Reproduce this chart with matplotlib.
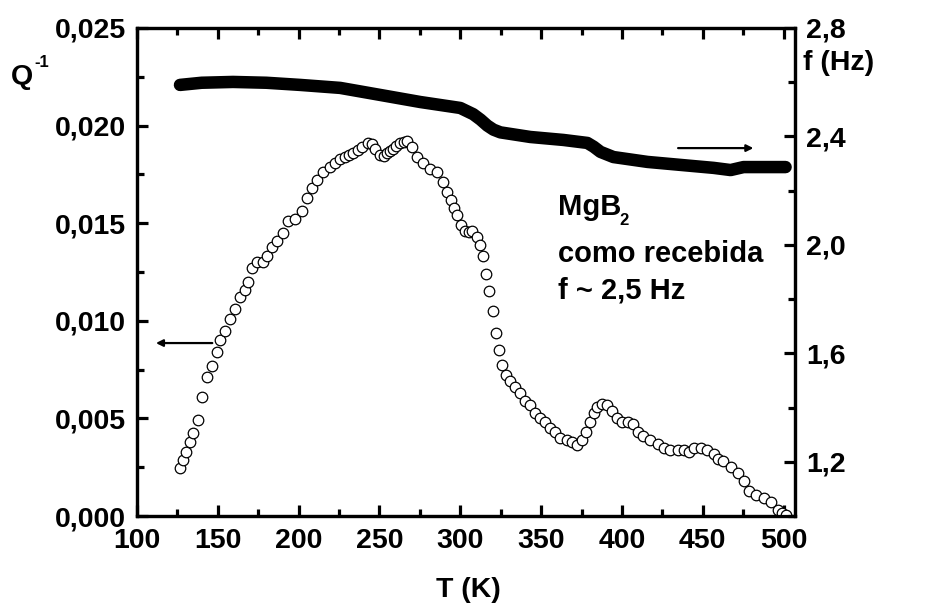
import matplotlib
matplotlib.use("Agg")
import matplotlib.pyplot as plt
from matplotlib.ticker import FixedLocator, MultipleLocator, FuncFormatter

plt.rcParams['font.family'] = ['Liberation Sans', 'DejaVu Sans']
plt.rcParams['font.weight'] = 'bold'

# Internal friction Q^-1 vs T
T_q = [126.6, 128.5, 130.5, 132.8, 134.7, 137.8, 140.2, 143.3, 146.4, 149.5, 151.4, 154.5,
       157.6, 160.7, 163.8, 166.9, 168.7, 171.2, 174.3, 178.0, 180.5, 183.6, 186.7, 190.4,
       193.5, 197.8, 202.2, 205.3, 208.4, 211.5, 215.2, 219.5, 222.6, 225.5, 228.8, 231.0,
       233.7, 236.5, 239.3, 243.0, 245.5, 247.4, 250.5, 252.5, 254.8, 256.5, 258.5, 260.5,
       262.8, 265.0, 267.2, 270.3, 273.4, 277.1, 281.4, 285.8, 289.5, 292.0, 294.4, 296.3,
       298.1, 300.6, 303.1, 305.5, 307.4, 310.5, 312.4, 314.2, 316.1, 318.0, 320.0, 322.3,
       324.1, 326.0, 328.5, 330.9, 334.0, 337.1, 340.2, 343.3, 346.4, 349.5, 352.6, 355.7,
       358.8, 361.9, 366.3, 369.3, 372.4, 375.5, 378.0, 380.5, 382.4, 384.8, 387.9, 391.0,
       394.1, 397.2, 400.3, 404.0, 407.1, 410.2, 413.3, 417.6, 422.0, 425.7, 430.0, 434.4,
       438.1, 441.2, 444.3, 448.6, 452.9, 456.7, 459.1, 462.8, 467.2, 471.5, 475.2, 478.3,
       482.7, 487.6, 492.0, 496.3, 499.0, 501.2]
Q_inv = [0.00246, 0.00287, 0.00330, 0.00380, 0.00425, 0.00490, 0.00610, 0.00710, 0.00770, 0.00840,
         0.00900, 0.00950, 0.01010, 0.01060, 0.01120, 0.01160, 0.01200, 0.01270, 0.01300, 0.01300,
         0.01330, 0.01380, 0.01410, 0.01450, 0.01510, 0.01520, 0.01560, 0.01630, 0.01680, 0.01720,
         0.01760, 0.01790, 0.01810, 0.01830, 0.01840, 0.01850, 0.01860, 0.01875, 0.01890, 0.01910,
         0.01905, 0.01880, 0.01850, 0.01845, 0.01860, 0.01870, 0.01880, 0.01895, 0.01910, 0.01915,
         0.01920, 0.01890, 0.01840, 0.01810, 0.01780, 0.01760, 0.01710, 0.01660, 0.01620, 0.01580,
         0.01540, 0.01490, 0.01460, 0.01455, 0.01460, 0.01430, 0.01390, 0.01330, 0.01240, 0.01155,
         0.01050, 0.00935, 0.00850, 0.00775, 0.00720, 0.00690, 0.00660, 0.00630, 0.00590, 0.00570,
         0.00530, 0.00500, 0.00480, 0.00450, 0.00430, 0.00400, 0.00390, 0.00380, 0.00365, 0.00390,
         0.00430, 0.00480, 0.00530, 0.00560, 0.00575, 0.00570, 0.00540, 0.00500, 0.00480, 0.00480,
         0.00470, 0.00430, 0.00410, 0.00390, 0.00370, 0.00350, 0.00340, 0.00340, 0.00340, 0.00330,
         0.00350, 0.00350, 0.00340, 0.00320, 0.00290, 0.00280, 0.00250, 0.00220, 0.00180, 0.00130,
         0.00110, 0.00090, 0.00070, 0.00030, 0.00015, 0.00005]

# Resonance frequency f vs T
T_f = [126.6, 140.0, 159.4, 180.0, 201.0, 225.7, 250.5, 275.2, 300.0, 308.0, 312.5, 316.7,
       320.5, 324.8, 343.3, 363.8, 378.6, 382.5, 386.7, 394.7, 415.8, 436.2, 456.7, 467.2,
       475.2, 487.6, 501.2]
f_hz = [2.590, 2.598, 2.601, 2.598, 2.590, 2.579, 2.553, 2.527, 2.505, 2.482, 2.462, 2.440,
        2.425, 2.415, 2.398, 2.387, 2.376, 2.362, 2.343, 2.324, 2.306, 2.295, 2.284, 2.276,
        2.287, 2.287, 2.287]

x_ticks = [100, 150, 200, 250, 300, 350, 400, 450, 500]
q_ticks = [0.000, 0.005, 0.010, 0.015, 0.020, 0.025]
f_ticks = [1.2, 1.6, 2.0, 2.4, 2.8]

FS = 20.5

fig = plt.figure(figsize=(9.37, 6.07), dpi=100)
ax = fig.add_axes([0.1462, 0.1499, 0.7022, 0.8040])
ax2 = ax.twinx()

ax.plot(T_q, Q_inv, linestyle='none', marker='o', markersize=7.6,
        markerfacecolor='white', markeredgecolor='black', markeredgewidth=0.9, zorder=3)
ax2.plot(T_f, f_hz, color='black', linewidth=9, solid_capstyle='round',
         solid_joinstyle='round', zorder=2)

ax.set_xlim(100, 507)
ax.set_ylim(0, 0.025)
ax2.set_ylim(1.0, 2.8)

comma = lambda fmt: FuncFormatter(lambda v, p: (fmt % v).replace('.', ','))
ax.xaxis.set_major_locator(FixedLocator(x_ticks))
ax.xaxis.set_minor_locator(MultipleLocator(25))
ax.yaxis.set_major_locator(FixedLocator(q_ticks))
ax.yaxis.set_minor_locator(MultipleLocator(0.0025))
ax.yaxis.set_major_formatter(comma('%.3f'))
ax2.yaxis.set_major_locator(FixedLocator(f_ticks))
ax2.yaxis.set_minor_locator(MultipleLocator(0.2))
ax2.yaxis.set_major_formatter(comma('%.1f'))

for a in (ax, ax2):
    for s in a.spines.values():
        s.set_linewidth(2.3)
ax.tick_params(axis='x', which='both', direction='in', top=True, labelsize=FS, width=2.3, pad=8.5)
ax.tick_params(axis='x', which='major', length=8)
ax.tick_params(axis='x', which='minor', length=5)
ax.tick_params(axis='y', which='both', direction='in', right=False, labelsize=FS, width=2.3, pad=8)
ax.tick_params(axis='y', which='major', length=8)
ax.tick_params(axis='y', which='minor', length=5)
ax2.tick_params(axis='y', which='both', direction='in', labelsize=FS, width=2.3, pad=8)
ax2.tick_params(axis='y', which='major', length=8)
ax2.tick_params(axis='y', which='minor', length=5)
for lab in ax.get_xticklabels() + ax.get_yticklabels() + ax2.get_yticklabels():
    lab.set_fontweight('bold')

fig.text(0.4995, 0.017, 'T (K)', ha='center', va='baseline', fontsize=FS, fontweight='bold')
fig.text(0.012, 0.862, 'Q', ha='left', va='baseline', fontsize=FS, fontweight='bold')
fig.text(0.037, 0.890, '-1', ha='left', va='baseline', fontsize=12, fontweight='bold')
fig.text(0.857, 0.885, 'f (Hz)', ha='left', va='baseline', fontsize=FS, fontweight='bold')

ax.annotate('', xy=(110, 0.00886), xytext=(148.3, 0.00886),
            arrowprops=dict(arrowstyle='-|>', color='black', lw=1.6, mutation_scale=10))
ax2.annotate('', xy=(483, 2.357), xytext=(433, 2.357),
             arrowprops=dict(arrowstyle='-|>', color='black', lw=1.6, mutation_scale=10))

fig.text(0.5955, 0.646, 'MgB', fontsize=21, fontweight='bold')
fig.text(0.6615, 0.630, '2', fontsize=12, fontweight='bold')
fig.text(0.5955, 0.568, 'como recebida', fontsize=21, fontweight='bold')
fig.text(0.5955, 0.509, 'f ~ 2,5 Hz', fontsize=21, fontweight='bold')

fig.savefig('out.png', dpi=100)
